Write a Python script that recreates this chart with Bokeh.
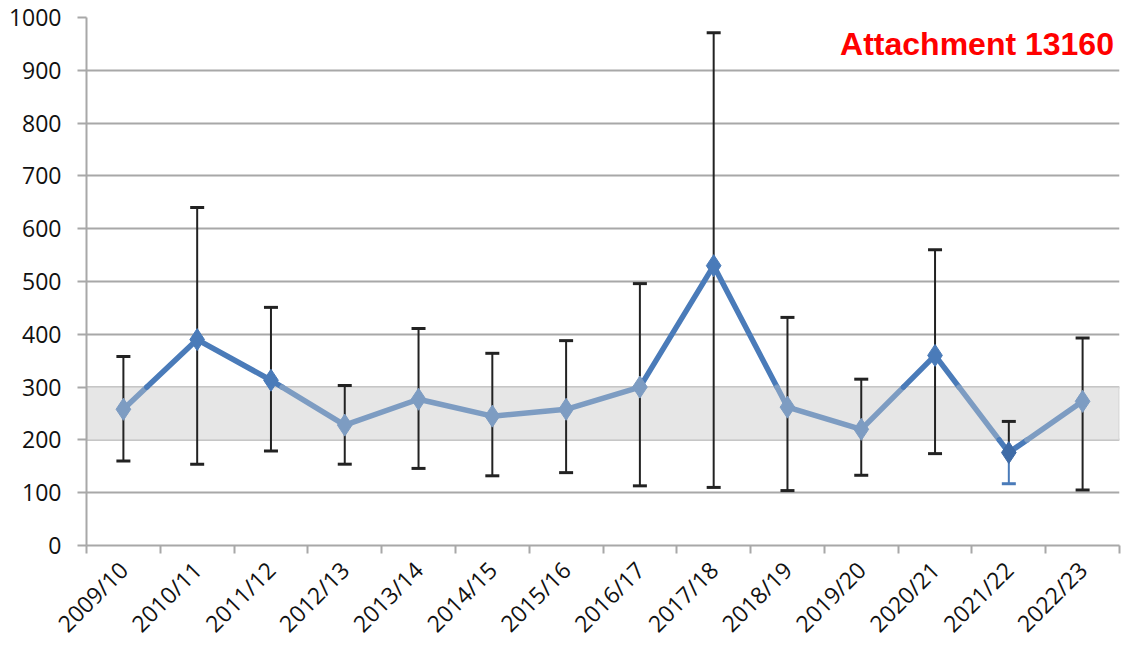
import math
from bokeh.plotting import figure
from bokeh.models import (ColumnDataSource, FixedTicker, BoxAnnotation, Label, Range1d)
from bokeh.embed import file_html
from bokeh.resources import INLINE

# Season labels and the measured mean with its low/high range
seasons = ["2009/10", "2010/11", "2011/12", "2012/13", "2013/14", "2014/15", "2015/16",
           "2016/17", "2017/18", "2018/19", "2019/20", "2020/21", "2021/22", "2022/23"]
mean_vals = [258, 390, 313, 228, 277, 245, 258, 300, 530, 262, 220, 360, 176, 273]
high_vals = [358, 640, 451, 303, 411, 364, 388, 496, 971, 432, 315, 560, 235, 393]
low_vals = [160, 154, 179, 154, 146, 132, 138, 113, 110, 104, 133, 174, 117, 105]

# Reference band
band_low, band_high = 200, 300
y_ticks = list(range(0, 1001, 100))

DARK = "#4a7bb9"
LIGHT = "#7d9cc2"
DARKEST = "#3f6ba6"
GRID = "#a8a8a8"

n = len(seasons)
xs = [2 * i + 1 for i in range(n)]  # category centres on a 0..2n axis

p = figure(width=1125, height=652, output_backend="svg", toolbar_location=None,
           x_range=Range1d(0, 2 * n), y_range=Range1d(0, 1000),
           min_border_left=86, min_border_right=6, min_border_top=17, min_border_bottom=107)
p.outline_line_color = None
p.background_fill_color = "white"
p.border_fill_color = "white"

# horizontal grid
p.xgrid.grid_line_color = None
p.ygrid.ticker = FixedTicker(ticks=y_ticks)
p.ygrid.grid_line_color = GRID
p.ygrid.grid_line_width = 2

# shaded band between 200 and 300
p.add_layout(BoxAnnotation(bottom=band_low, top=band_high, fill_color="#e6e6e6", fill_alpha=1,
                           line_color=GRID, line_width=2, level="underlay"))

# y axis
p.yaxis.ticker = FixedTicker(ticks=y_ticks)
p.yaxis.axis_line_color = GRID
p.yaxis.axis_line_width = 2
p.yaxis.major_tick_line_color = GRID
p.yaxis.major_tick_line_width = 2
p.yaxis.major_tick_out = 9
p.yaxis.major_tick_in = 0
p.yaxis.minor_tick_line_color = None
p.yaxis.major_label_text_font = "Open Sans"
p.yaxis.major_label_text_font_size = "23px"
p.yaxis.major_label_text_color = "#111111"
p.yaxis.major_label_standoff = 16

# x axis: labels at the centres, tick marks at the category boundaries
p.xaxis.ticker = FixedTicker(ticks=xs, minor_ticks=list(range(0, 2 * n + 1, 2)))
p.xaxis.major_label_overrides = {x: s for x, s in zip(xs, seasons)}
p.xaxis.major_label_orientation = math.pi / 4
p.xaxis.major_label_text_font = "Open Sans"
p.xaxis.major_label_text_font_size = "23px"
p.xaxis.major_label_text_color = "#111111"
p.xaxis.major_label_standoff = 12
p.xaxis.axis_line_color = GRID
p.xaxis.axis_line_width = 2
p.xaxis.major_tick_out = 0
p.xaxis.major_tick_in = 0
p.xaxis.minor_tick_line_color = GRID
p.xaxis.minor_tick_line_width = 2
p.xaxis.minor_tick_out = 8
p.xaxis.minor_tick_in = 0

# error bars: upper and lower stems with caps
lo_colors = ["#222222"] * n
lo_colors[12] = DARK
err = ColumnDataSource(dict(x=xs, mean=mean_vals, hi=high_vals, lo=low_vals, lo_color=lo_colors))
p.segment(x0="x", y0="mean", x1="x", y1="hi", source=err, line_color="#222222", line_width=2)
p.segment(x0="x", y0="mean", x1="x", y1="lo", source=err, line_color="lo_color", line_width=2)
p.dash(x="x", y="hi", source=err, size=14, line_color="#222222", line_width=3)
p.dash(x="x", y="lo", source=err, size=14, line_color="lo_color", line_width=3)


# connecting line, lighter inside the band and darker outside it
def in_band(v):
    return band_low <= v <= band_high


sx0, sy0, sx1, sy1, scol = [], [], [], [], []
for i in range(n - 1):
    x0, y0, x1, y1 = xs[i], mean_vals[i], xs[i + 1], mean_vals[i + 1]
    ts = [0.0, 1.0]
    for lvl in (band_low, band_high):
        if (y0 - lvl) * (y1 - lvl) < 0:
            ts.append((lvl - y0) / (y1 - y0))
    ts.sort()
    for a, b in zip(ts[:-1], ts[1:]):
        ya, yb = y0 + a * (y1 - y0), y0 + b * (y1 - y0)
        sx0.append(x0 + a * (x1 - x0))
        sy0.append(ya)
        sx1.append(x0 + b * (x1 - x0))
        sy1.append(yb)
        scol.append(LIGHT if in_band((ya + yb) / 2) else DARK)

p.segment(x0=sx0, y0=sy0, x1=sx1, y1=sy1, line_color=scol, line_width=5.5, line_cap="round")

mk_colors = [LIGHT if in_band(v) else DARK for v in mean_vals]
mk_colors[12] = DARKEST
p.scatter(xs, mean_vals, marker="diamond", size=22, fill_color=mk_colors, line_color=mk_colors)

p.add_layout(Label(x=2 * n - 0.15, y=950, text="Attachment 13160", text_align="right",
                   text_baseline="middle", text_color="#ff0000", text_font="Liberation Sans",
                   text_font_style="bold", text_font_size="32px"))

open("out.html", "w").write(file_html(p, INLINE))
